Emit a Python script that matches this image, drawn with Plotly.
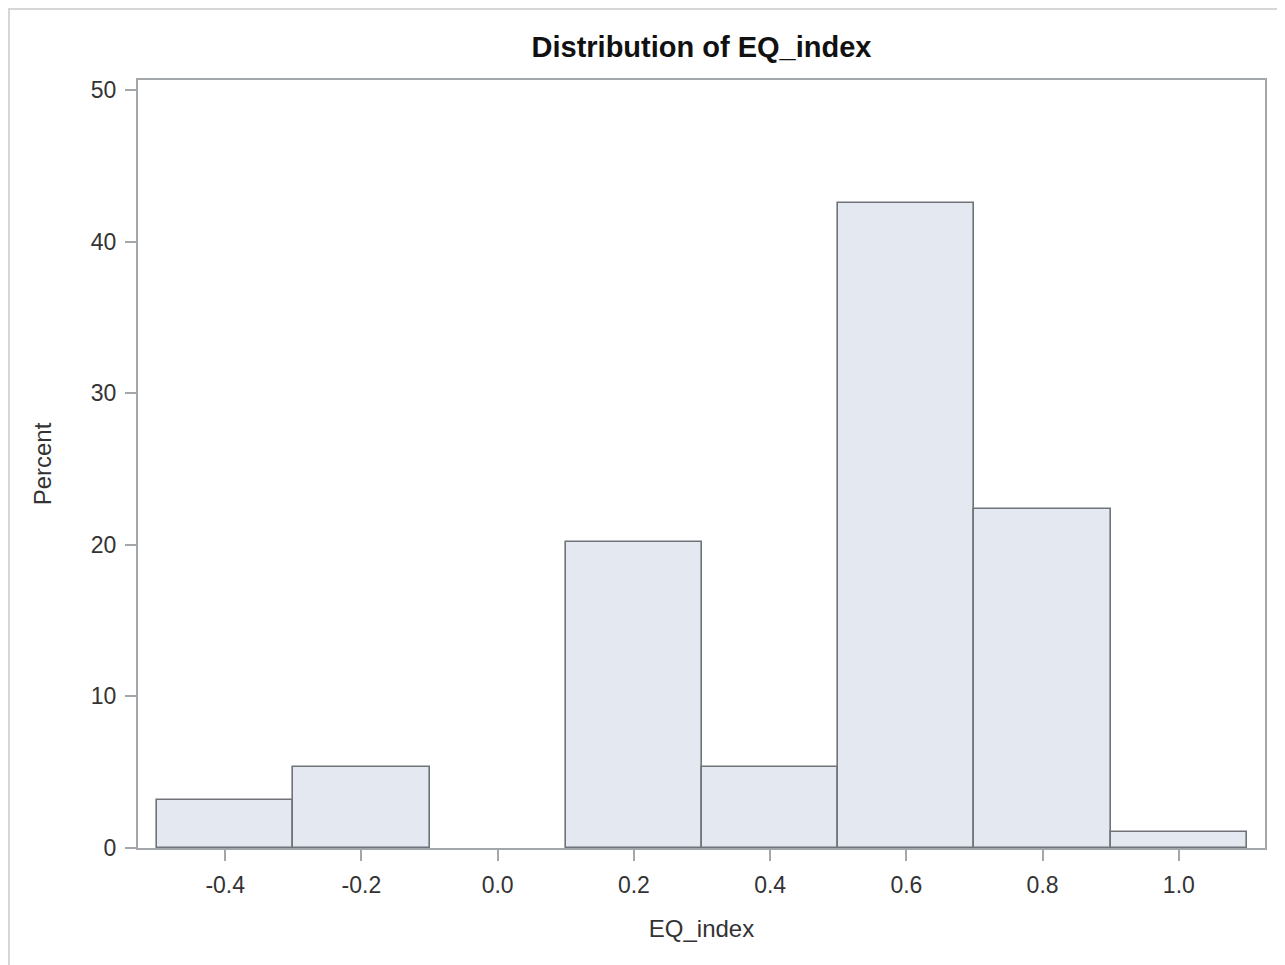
import plotly.graph_objects as go

# Data
bin_centers = [-0.4, -0.2, 0.0, 0.2, 0.4, 0.6, 0.8, 1.0]
percent = [3.19, 5.32, 0.0, 20.21, 5.32, 42.55, 22.34, 1.06]
bin_width = 0.2
x_ticks = [-0.4, -0.2, 0.0, 0.2, 0.4, 0.6, 0.8, 1.0]
x_tick_labels = ["-0.4", "-0.2", "0.0", "0.2", "0.4", "0.6", "0.8", "1.0"]
y_ticks = [0, 10, 20, 30, 40, 50]

FONT = "Liberation Sans, Arial, sans-serif"
TEXT = "#333333"
AXIS = "#A3A7AC"

W, H = 1277, 957          # page has an 8px body margin
ML, MR, MT, MB = 130, 20, 72, 117
PW, PH = W - ML - MR, H - MT - MB

fig = go.Figure()
fig.add_trace(go.Bar(
    x=bin_centers,
    y=percent,
    width=[bin_width] * len(bin_centers),
    marker=dict(color="#E3E8F1",
                line=dict(color="#707378",
                          width=[0 if v == 0 else 1.6 for v in percent])),
    hoverinfo="x+y",
))

fig.update_layout(
    width=W, height=H,
    margin=dict(l=ML, r=MR, t=MT, b=MB),
    paper_bgcolor="white", plot_bgcolor="white",
    showlegend=False,
    bargap=0,
    font=dict(family=FONT, color=TEXT, size=22),
    title=dict(text="<b>Distribution of EQ_index</b>", xref="paper", x=0.5, xanchor="center",
               y=1 - 39 / H, yanchor="middle",
               font=dict(family=FONT, size=29, color="#111111")),
    xaxis=dict(
        range=[-0.528, 1.1265],
        tickmode="array", tickvals=x_ticks, ticktext=x_tick_labels,
        showline=True, mirror=True, linecolor=AXIS, linewidth=2,
        ticks="outside", ticklen=11, tickwidth=2, tickcolor=AXIS,
        ticklabelstandoff=4,
        showgrid=False, zeroline=False,
        tickfont=dict(size=23, color=TEXT),
        title=dict(text="EQ_index", standoff=24, font=dict(size=24, color=TEXT)),
    ),
    yaxis=dict(
        range=[0, 50.66],
        tickmode="array", tickvals=y_ticks,
        showline=True, mirror=True, linecolor=AXIS, linewidth=2,
        ticks="outside", ticklen=11, tickwidth=2, tickcolor=AXIS,
        ticklabelstandoff=4,
        showgrid=False, zeroline=False,
        tickfont=dict(size=23, color=TEXT),
        title=dict(text="Percent", standoff=32, font=dict(size=24, color=TEXT)),
    ),
    shapes=[
        dict(type="rect", xref="paper", yref="paper",
             x0=(-ML + 1) / PW, x1=1.0 + 60 / PW,
             y0=-0.3, y1=1 + (MT - 1) / PH,
             line=dict(color="#D6D6D6", width=2), fillcolor="rgba(0,0,0,0)", layer="below"),
    ],
)

fig.write_html("out.html")
